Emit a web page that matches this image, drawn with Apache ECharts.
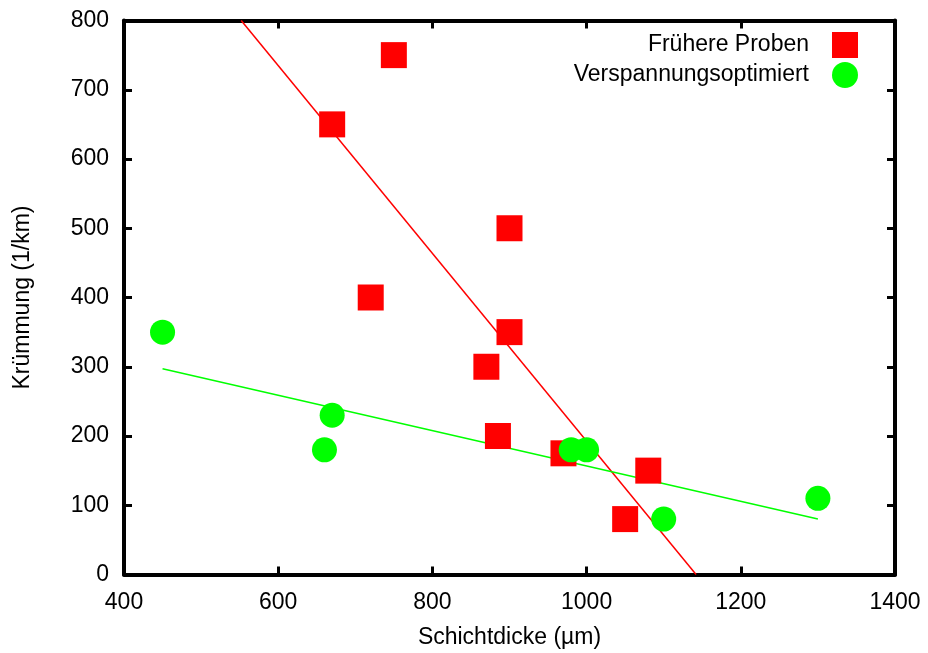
<!DOCTYPE html>
<html><head><meta charset="utf-8">
<script src="https://cdn.jsdelivr.net/npm/echarts@6/dist/echarts.min.js"></script>
<style>html,body{margin:0;padding:0;background:#fff}#c{width:928px;height:653px}</style>
</head><body><div id="c"></div>
<script>
const xTicks = [400, 600, 800, 1000, 1200, 1400];
const yTicks = [0, 100, 200, 300, 400, 500, 600, 700, 800];
const seriesNames = ['Frühere Proben', 'Verspannungsoptimiert'];
const frueherX = [750, 670, 720, 900, 900, 870, 885, 970, 1080, 1050];
const frueherY = [750, 650, 400, 500, 350, 300, 200, 175, 150, 80];
const verspX = [450, 670, 660, 980, 1000, 1100, 1300];
const verspY = [350, 230, 180, 180, 180, 80, 110];
const fitRedX = [552, 1142];
const fitRedY = [800, 0];
const fitGreenX = [450, 1300];
const fitGreenY = [297, 80];

const zip = (a, b) => a.map((v, i) => [v, b[i]]);
const font = 'Liberation Sans, Arial, sans-serif';
const fs = 23;
const chart = echarts.init(document.getElementById('c'), null, {renderer: 'canvas'});
const axisCommon = {
  axisLine: {show: true, onZero: false, lineStyle: {color: '#000', width: 4}},
  axisTick: {show: true, inside: true, length: 8, lineStyle: {color: '#000', width: 3}},
  splitLine: {show: false}
};
const fmt = v => String(v);
chart.setOption({
  animation: false,
  backgroundColor: '#fff',
  grid: {left: 124, right: 33, top: 20.5, bottom: 78.5, containLabel: false, outerBoundsMode: 'none'},
  legend: {
    data: [{name: seriesNames[0], icon: 'rect'}, {name: seriesNames[1], icon: 'circle'}],
    orient: 'vertical', align: 'right', right: 65, top: 27,
    itemWidth: 26, itemHeight: 26, itemGap: 4,
    textStyle: {fontFamily: font, fontSize: fs, color: '#000', padding: [0, 18, 0, 0]},
    selectedMode: false
  },
  xAxis: [
    Object.assign({type: 'value', min: xTicks[0], max: xTicks[xTicks.length - 1], interval: 200, position: 'bottom',
      name: 'Schichtdicke (µm)', nameLocation: 'middle', nameGap: 52,
      nameTextStyle: {fontFamily: font, fontSize: fs, color: '#000'},
      axisLabel: {fontFamily: font, fontSize: fs, color: '#000', margin: 17, formatter: fmt}}, axisCommon),
    Object.assign({type: 'value', min: xTicks[0], max: xTicks[xTicks.length - 1], interval: 200, position: 'top',
      axisLabel: {show: false}}, axisCommon)
  ],
  yAxis: [
    Object.assign({type: 'value', min: yTicks[0], max: yTicks[yTicks.length - 1], interval: 100, position: 'left',
      name: 'Krümmung (1/km)', nameLocation: 'middle', nameGap: 90, nameRotate: 90,
      nameTextStyle: {fontFamily: font, fontSize: fs, color: '#000'},
      axisLabel: {fontFamily: font, fontSize: fs, color: '#000', margin: 15, formatter: fmt}}, axisCommon),
    Object.assign({type: 'value', min: yTicks[0], max: yTicks[yTicks.length - 1], interval: 100, position: 'right',
      axisLabel: {show: false}}, axisCommon)
  ],
  series: [
    {name: 'fitRed', type: 'line', data: zip(fitRedX, fitRedY), showSymbol: false, symbol: 'none',
      lineStyle: {color: '#ff0000', width: 1.5}, z: 2, silent: true},
    {name: 'fitGreen', type: 'line', data: zip(fitGreenX, fitGreenY), showSymbol: false, symbol: 'none',
      lineStyle: {color: '#00ff00', width: 1.5}, z: 2, silent: true},
    {name: seriesNames[0], type: 'scatter', data: zip(frueherX, frueherY), symbol: 'rect', symbolSize: 26,
      itemStyle: {color: '#ff0000', opacity: 1}, z: 3},
    {name: seriesNames[1], type: 'scatter', data: zip(verspX, verspY), symbol: 'circle', symbolSize: 25,
      itemStyle: {color: '#00ff00', opacity: 1}, z: 4}
  ]
});
</script></body></html>
